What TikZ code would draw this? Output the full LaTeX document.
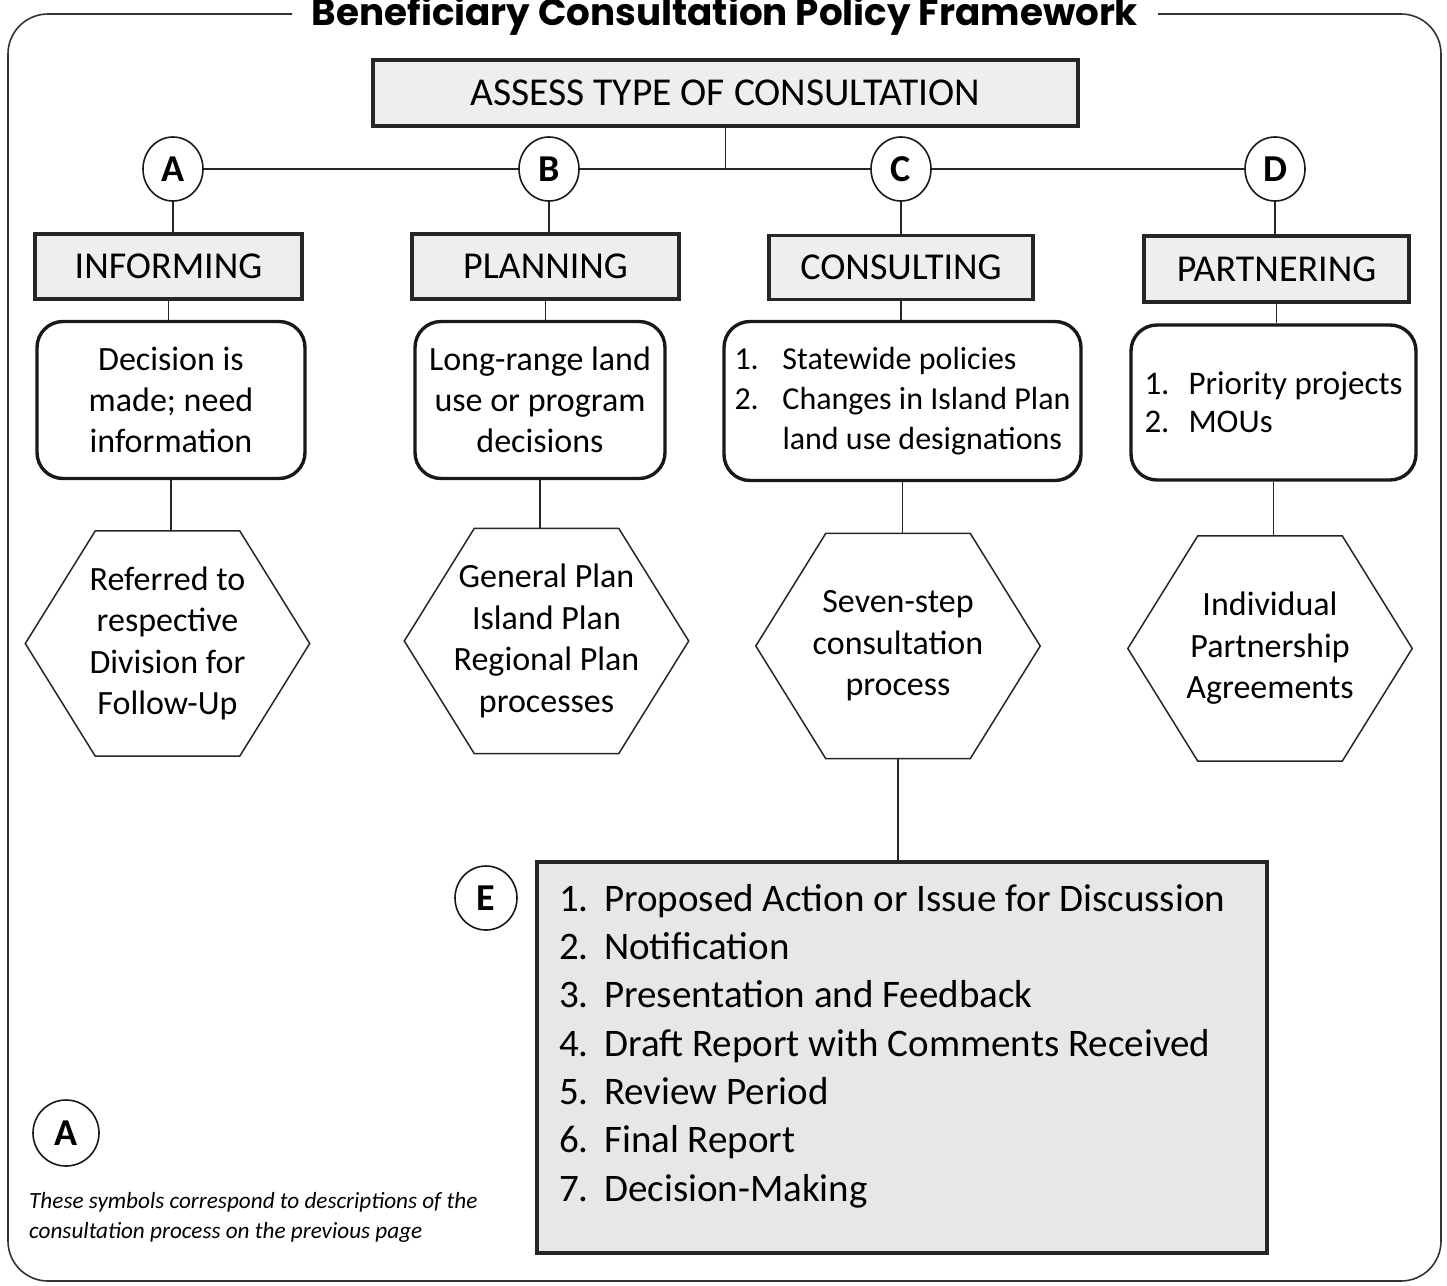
\documentclass[tikz,border=0pt]{standalone}
\usepackage{fontspec}
\setmainfont{Carlito}
\newfontfamily\titlefont{Poppins}
\usetikzlibrary{calc,shapes.geometric}
\newcommand\hexdraw[2]{%
  \draw[hexline] (#1.west) -- ($(#1.north west)+(#2,0)$) -- ($(#1.north east)+(-#2,0)$)
    -- (#1.east) -- ($(#1.south east)+(-#2,0)$) -- ($(#1.south west)+(#2,0)$) -- cycle;}
\newcommand\numitem[2]{\makebox[#1][l]{#2}}
\begin{document}
\begin{tikzpicture}[x=1pt,y=-1pt,
  conn/.style={line width=1.4pt, draw=black!85},
  hexline/.style={line width=1.5pt, draw=black!85},
  frameline/.style={line width=1.6pt, draw=black!80, rounded corners=40pt},
  hdrbox/.style={draw=black!85, line width=3.4pt, fill=gray!13, inner sep=0pt,
    font=\fontsize{38}{40}\selectfont},
  infobox/.style={draw=black!90, line width=3.4pt, rounded corners=26pt, fill=white,
    inner sep=0pt, align=center, font=\fontsize{34}{41}\selectfont},
  hexbox/.style={inner sep=0pt, minimum width=284pt, minimum height=225pt, align=center,
    font=\fontsize{34}{41.5}\selectfont},
  letter/.style={ellipse, draw=black!90, line width=1.6pt, fill=white, minimum width=60pt,
    minimum height=64pt, inner sep=0pt, font=\fontsize{38}{38}\selectfont\bfseries},
  stepsbox/.style={draw=black!85, line width=3.4pt, fill=gray!19, inner sep=0pt},
  stepstext/.style={inner sep=0pt, align=left, font=\fontsize{39}{48.3}\selectfont},
  notetext/.style={inner sep=0pt, align=left, font=\fontsize{23.2}{30}\selectfont\itshape},
]
\useasboundingbox (0,0) rectangle (1447,1285);
\fill[white] (0,0) rectangle (1447,1285);

% frame and title
\node[inner sep=0pt, anchor=base] (title) at (725,25)
  {\resizebox{826pt}{!}{\titlefont\bfseries Beneficiary Consultation Policy Framework}};
\draw[frameline] (292,14) -- (8,14) -- (8,1281) -- (1441,1281) -- (1441,14) -- (1158,14);

% top
\node[hdrbox, minimum width=705pt, minimum height=66pt, font=\fontsize{39.5}{40}\selectfont]
  (assess) at (725.5,93) {ASSESS TYPE OF CONSULTATION};

\node[letter] (cA) at (173,169) {A};
\node[letter] (cB) at (549,169) {B};
\node[letter] (cC) at (901,169) {C};
\node[letter] (cD) at (1275,169) {D};

\node[hdrbox, minimum width=267pt, minimum height=65pt] (hA) at (168.5,266.5) {INFORMING};
\node[hdrbox, minimum width=267pt, minimum height=65pt] (hB) at (545.5,266.5) {PLANNING};
\node[hdrbox, minimum width=264pt, minimum height=64pt] (hC) at (901,267.5) {CONSULTING};
\node[hdrbox, minimum width=265pt, minimum height=66pt] (hD) at (1276.5,269) {PARTNERING};

\node[infobox, minimum width=268pt, minimum height=157pt] (iA) at (171,400)
  {Decision is\\made; need\\information};
\node[infobox, minimum width=250pt, minimum height=157pt] (iB) at (540,400)
  {Long-range land\\use or program\\decisions};
\node[infobox, minimum width=357pt, minimum height=159pt, align=left,
  font=\fontsize{32}{40}\selectfont]
  (iC) at (902.5,401)
  {\numitem{48pt}{1.}Statewide policies\\\numitem{48pt}{2.}Changes in Island Plan\\\hspace*{48pt}land use designations};
\node[infobox, minimum width=285pt, minimum height=155pt, align=left,
  font=\fontsize{33}{38}\selectfont]
  (iD) at (1273.5,402.5)
  {\numitem{44pt}{1.}Priority projects\\\numitem{44pt}{2.}MOUs};

\node[hexbox] (xA) at (167.5,643.5) {Referred to\\respective\\Division for\\Follow-Up};
\node[hexbox] (xB) at (546.5,641) {General Plan\\Island Plan\\Regional Plan\\processes};
\node[hexbox] (xC) at (898,646) {Seven-step\\consultation\\process};
\node[hexbox] (xD) at (1270,648.5) {Individual\\Partnership\\Agreements};
\hexdraw{xA}{70}
\hexdraw{xB}{70}
\hexdraw{xC}{70}
\hexdraw{xD}{70}

\node[stepsbox, minimum width=730pt, minimum height=391pt] (steps) at (902,1057.5) {};
\node[stepstext, anchor=north west] (stepslist) at (559,884)
  {\numitem{45pt}{1.}Proposed Action or Issue for Discussion\\
   \numitem{45pt}{2.}Notification\\
   \numitem{45pt}{3.}Presentation and Feedback\\
   \numitem{45pt}{4.}Draft Report with Comments Received\\
   \numitem{45pt}{5.}Review Period\\
   \numitem{45pt}{6.}Final Report\\
   \numitem{45pt}{7.}Decision-Making};
\node[letter, minimum width=62pt, minimum height=64pt] (cE) at (486,898) {E};

\node[letter, minimum width=66pt, minimum height=66pt] (legendA) at (66,1133) {A};
\node[notetext, anchor=north west] (note) at (29,1192)
  {These symbols correspond to descriptions of the\\consultation process on the previous page};

% connectors
\draw[conn] (assess.south) -- (assess.south |- cB.east);
\draw[conn] (cA.east) -- (cB.west);
\draw[conn] (cB.east) -- (cC.west);
\draw[conn] (cC.east) -- (cD.west);
\foreach \k in {A,B,C,D}{
  \draw[conn] (c\k.south) -- (c\k.south |- h\k.north);
  \draw[conn] (h\k.south) -- (h\k.south |- i\k.north);
  \draw[conn] (i\k.south) -- (i\k.south |- x\k.north);
}
\draw[conn] (xC.south) -- (xC.south |- steps.north);
\end{tikzpicture}
\end{document}
